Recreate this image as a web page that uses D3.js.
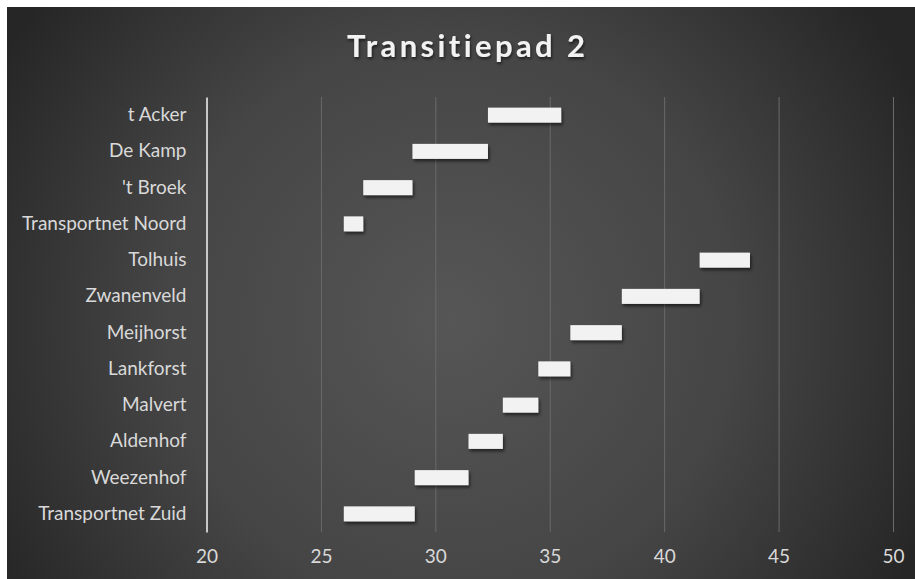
<!DOCTYPE html>
<html>
<head>
<meta charset="utf-8">
<script src="https://cdn.jsdelivr.net/npm/d3@7"></script>
<style>
  body { margin: 0; background: #fff; }
  svg { display: block; }
  .lbl text { font-family: Lato, "Open Sans", sans-serif; font-size: 19px; fill: #d9d9d9; }
</style>
</head>
<body>
<div id="chart"></div>
<script>
"use strict";

var categories = ["t Acker", "De Kamp", "'t Broek", "Transportnet Noord", "Tolhuis", "Zwanenveld",
  "Meijhorst", "Lankforst", "Malvert", "Aldenhof", "Weezenhof", "Transportnet Zuid"];
var startValues = [32.3, 29.0, 26.85, 26.0, 41.55, 38.15, 35.9, 34.5, 32.95, 31.45, 29.1, 26.0];
var endValues = [35.5, 32.3, 29.0, 26.85, 43.75, 41.55, 38.15, 35.9, 34.5, 32.95, 31.45, 29.1];
var xTicks = [20, 25, 30, 35, 40, 45, 50];
var chartTitle = "Transitiepad 2";

var w = 915,
  h = 579;
var plot = { left: 206.5, right: 893, top: 97, bottom: 532 };

var svg = d3.select("#chart").append("svg").attr("width", w).attr("height", h);
var defs = svg.append("defs");

// background gradient, lighter in the middle
var grad = defs.append("radialGradient").attr("id", "bg")
  .attr("gradientUnits", "userSpaceOnUse")
  .attr("cx", 450).attr("cy", 320).attr("r", 520);
grad.append("stop").attr("offset", "0%").attr("stop-color", "#565656");
grad.append("stop").attr("offset", "55%").attr("stop-color", "#454545");
grad.append("stop").attr("offset", "100%").attr("stop-color", "#262626");

var shadow = defs.append("filter").attr("id", "shadow")
  .attr("x", "-10%").attr("y", "-30%").attr("width", "130%").attr("height", "190%");
shadow.append("feDropShadow").attr("dx", 1.5).attr("dy", 2.5).attr("stdDeviation", 1.5)
  .attr("flood-color", "#000").attr("flood-opacity", 0.55);

var tshadow = defs.append("filter").attr("id", "tshadow");
tshadow.append("feDropShadow").attr("dx", 1).attr("dy", 2).attr("stdDeviation", 1.5)
  .attr("flood-color", "#000").attr("flood-opacity", 0.6);

svg.append("rect").attr("x", 7).attr("y", 7).attr("width", w - 7).attr("height", h - 7)
  .attr("fill", "url(#bg)");

var x = d3.scaleLinear().domain([20, 50]).range([plot.left, plot.right]);
var y = d3.scaleBand().domain(categories).range([plot.top, plot.bottom])
  .paddingInner(0.586).paddingOuter(0.293);

// vertical gridlines
svg.append("g")
  .attr("transform", "translate(0," + plot.bottom + ")")
  .call(d3.axisBottom(x).tickValues(xTicks.slice(1)).tickSize(-(plot.bottom - plot.top)).tickFormat(""))
  .call(function (g) { g.select(".domain").remove(); })
  .selectAll("line").attr("stroke", "#6a6a6a").attr("stroke-width", 1);

// x tick labels
svg.append("g").attr("class", "lbl")
  .attr("transform", "translate(0," + plot.bottom + ")")
  .call(d3.axisBottom(x).tickValues(xTicks).tickSize(0).tickPadding(18))
  .call(function (g) { g.select(".domain").remove(); })
  .selectAll("text").attr("font-size", null).attr("font-family", null).attr("fill", null);

// category axis
var yAxis = svg.append("g").attr("class", "lbl")
  .attr("transform", "translate(" + plot.left + ",0)")
  .call(d3.axisLeft(y).tickSize(0).tickSizeOuter(0).tickPadding(20));
yAxis.select(".domain").attr("stroke", "#c8c8c8").attr("stroke-width", 2);
yAxis.selectAll("text").attr("font-size", null).attr("font-family", null).attr("fill", null);

// floating bars
var rows = categories.map(function (c, i) {
  return { name: c, start: startValues[i], end: endValues[i] };
});
svg.append("g").selectAll("rect")
  .data(rows)
  .join("rect")
  .attr("x", function (d) { return x(d.start); })
  .attr("y", function (d) { return y(d.name); })
  .attr("width", function (d) { return x(d.end) - x(d.start); })
  .attr("height", y.bandwidth())
  .attr("fill", "#f2f2f2")
  .attr("filter", "url(#shadow)");

// title
svg.append("text")
  .attr("x", 466).attr("y", 57)
  .attr("text-anchor", "middle")
  .attr("font-family", "Lato, 'Open Sans', sans-serif")
  .attr("font-weight", "bold")
  .attr("font-size", 31)
  .attr("fill", "#f2f2f2")
  .attr("textLength", 238)
  .attr("lengthAdjust", "spacing")
  .style("font-variant-ligatures", "none")
  .attr("filter", "url(#tshadow)")
  .text(chartTitle);
</script>
</body>
</html>
